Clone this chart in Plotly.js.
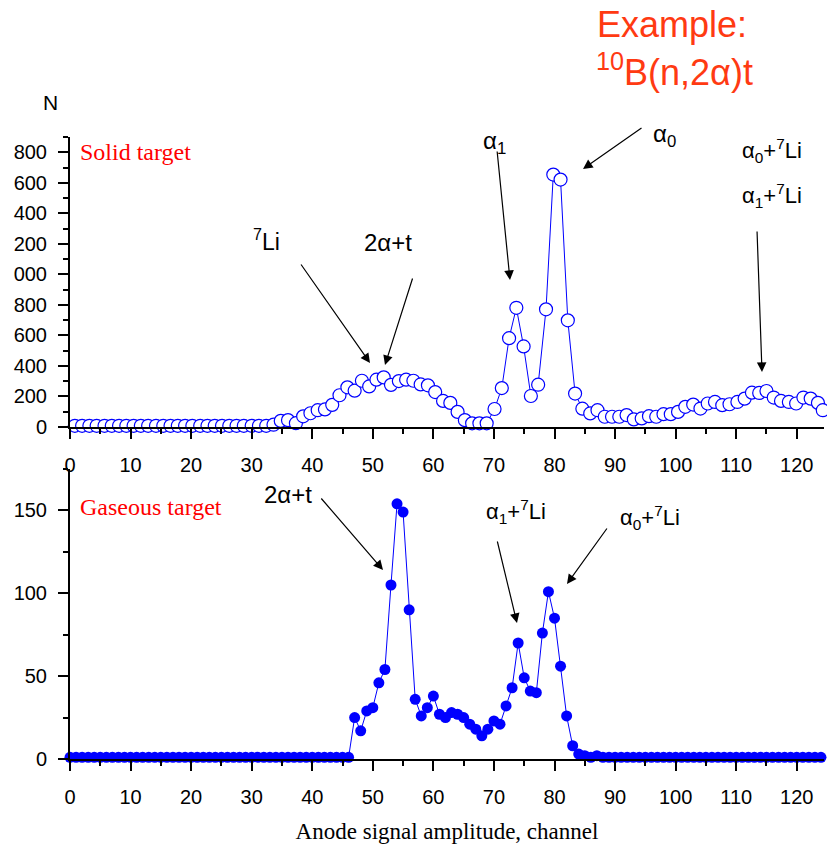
<!DOCTYPE html>
<html>
<head>
<meta charset="utf-8">
<script src="https://cdn.plot.ly/plotly-3.0.1.min.js"></script>
<style>
  html, body { margin: 0; padding: 0; background: #ffffff; }
  #chart { width: 827px; height: 847px; }
</style>
</head>
<body>
<div id="chart"></div>
<script>
// Solid target spectrum (open circles)
const solidChannel = [
  0.8, 2.0, 3.2, 4.4, 5.7, 6.9, 8.1, 9.3, 10.5, 11.7,
  12.9, 14.2, 15.4, 16.6, 17.8, 19.0, 20.2, 21.5, 22.7, 23.9,
  25.1, 26.3, 27.5, 28.7, 30.0, 31.2, 32.4, 33.6, 34.8, 36.0,
  37.3, 38.5, 39.7, 40.9, 42.1, 43.3, 44.5, 45.8, 47.0, 48.2,
  49.4, 50.6, 51.8, 53.0, 54.3, 55.5, 56.7, 57.9, 59.1, 60.3,
  61.6, 62.8, 64.0, 65.2, 66.4, 67.6, 68.8, 70.1, 71.3, 72.5,
  73.7, 74.9, 76.1, 77.3, 78.6, 79.8, 81.0, 82.2, 83.4, 84.6,
  85.9, 87.1, 88.3, 89.5, 90.7, 91.9, 93.1, 94.4, 95.6, 96.8,
  98.0, 99.2, 100.4, 101.6, 102.9, 104.1, 105.3, 106.5, 107.7, 108.9,
  110.2, 111.4, 112.6, 113.8, 115.0, 116.2, 117.4, 118.7, 119.9, 121.1,
  122.3, 123.5, 124.3
];
const solidCounts = [
  8, 8, 8, 8, 8, 8, 8, 8, 8, 8,
  8, 8, 8, 8, 8, 8, 8, 8, 8, 8,
  8, 8, 8, 8, 8, 8, 8, 15, 40, 45,
  25, 70, 90, 110, 115, 145, 208, 260, 238, 303,
  266, 310, 325, 276, 301, 310, 303, 279, 273, 229,
  171, 158, 99, 45, 24, 24, 24, 118, 255, 582,
  781, 528, 203, 277, 771, 1654, 1621, 699, 219, 120,
  89, 110, 67, 67, 67, 78, 50, 56, 71, 67,
  84, 84, 99, 132, 147, 121, 154, 164, 143, 149,
  164, 186, 225, 223, 236, 193, 171, 164, 154, 193,
  186, 158, 110
];

// Gaseous target spectrum (filled circles)
const gasChannel = [
  0, 1, 2, 3, 4, 5, 6, 7, 8, 9, 10, 11, 12, 13, 14, 15, 16, 17, 18, 19,
  20, 21, 22, 23, 24, 25, 26, 27, 28, 29, 30, 31, 32, 33, 34, 35, 36, 37, 38, 39,
  40, 41, 42, 43, 44, 45, 46, 47, 48, 49, 50, 51, 52, 53, 54, 55, 56, 57, 58, 59,
  60, 61, 62, 63, 64, 65, 66, 67, 68, 69, 70, 71, 72, 73, 74, 75, 76, 77, 78, 79,
  80, 81, 82, 83, 84, 85, 86, 87, 88, 89, 90, 91, 92, 93, 94, 95, 96, 97, 98, 99,
  100, 101, 102, 103, 104, 105, 106, 107, 108, 109, 110, 111, 112, 113, 114, 115, 116, 117, 118, 119,
  120, 121, 122, 123, 124
];
const gasCounts = [
  1, 1, 1, 1, 1, 1, 1, 1, 1, 1, 1, 1, 1, 1, 1, 1, 1, 1, 1, 1,
  1, 1, 1, 1, 1, 1, 1, 1, 1, 1, 1, 1, 1, 1, 1, 1, 1, 1, 1, 1,
  1, 1, 1, 1, 1, 1, 1, 25, 17, 29, 31, 46, 54, 105, 154, 149, 90, 36, 26, 31,
  38, 27, 25, 28, 27, 25, 21, 18, 14, 18, 23, 21, 32, 43, 70, 49, 41, 40, 76, 101,
  85, 56, 26, 8, 3, 2, 1, 2, 1, 1, 1, 1, 1, 1, 1, 1, 1, 1, 1, 1,
  1, 1, 1, 1, 1, 1, 1, 1, 1, 1, 1, 1, 1, 1, 1, 1, 1, 1, 1, 1,
  1, 1, 1, 1, 1
];

// Axis tick values and the labels printed beside them
const solidTickVals = [0, 200, 400, 600, 800, 1000, 1200, 1400, 1600, 1800];
const solidTickText = ["0", "200", "400", "600", "800", "000", "200", "400", "600", "800"];
const gasTickVals = [0, 50, 100, 150];

const W = 827, H = 847;
const SANS = "Liberation Sans, Arial, sans-serif";
const SERIF = "Liberation Serif, Times New Roman, serif";
const BLUE = "#0000ff";
const RED = "#ff0000";
const ORANGE = "#ff3a12";

// pixel position helpers for page-level labels
const px = x => x / W;
const py = y => 1 - y / H;

function label(text, x, y, size, color, family, xanchor) {
  return {
    xref: "paper", yref: "paper", x: px(x), y: py(y),
    text: text, showarrow: false,
    xanchor: xanchor || "center", yanchor: "middle",
    font: { family: family || SANS, size: size, color: color || "#000" }
  };
}

function arrow(tx, ty, hx, hy) {
  return {
    xref: "paper", yref: "paper", x: px(hx), y: py(hy),
    axref: "pixel", ayref: "pixel", ax: tx - hx, ay: ty - hy,
    text: "", showarrow: true,
    arrowhead: 2, arrowsize: 1.6, arrowwidth: 1.2, arrowcolor: "#000"
  };
}

const minorTicks = (dtick) => ({
  tickmode: "linear", tick0: 0, dtick: dtick,
  ticks: "outside", ticklen: 5, tickwidth: 2, tickcolor: "#000"
});

const axisCommon = {
  showgrid: false, zeroline: false,
  showline: true, linecolor: "#000", linewidth: 2,
  ticks: "outside", ticklen: 10, tickwidth: 2, tickcolor: "#000",
  tickfont: { family: SANS, size: 20, color: "#000" },
  mirror: false
};
const xAxisCommon = Object.assign({}, axisCommon, { ticklabelstandoff: 9 });
const yAxisCommon = Object.assign({}, axisCommon, { ticklabelstandoff: 7 });

const xdom = [70 / W, 824 / W];

const traces = [
  {
    x: solidChannel, y: solidCounts, xaxis: "x", yaxis: "y",
    type: "scatter", mode: "lines+markers", cliponaxis: false,
    line: { color: BLUE, width: 1 },
    marker: { symbol: "circle", size: 13, color: "#ffffff", line: { color: BLUE, width: 1.2 } },
    hoverinfo: "x+y"
  },
  {
    x: gasChannel, y: gasCounts, xaxis: "x2", yaxis: "y2",
    type: "scatter", mode: "lines+markers", cliponaxis: false,
    line: { color: BLUE, width: 1 },
    marker: { symbol: "circle", size: 11, color: BLUE, line: { width: 0 } },
    hoverinfo: "x+y"
  }
];

const layout = {
  width: W, height: H,
  margin: { l: 0, r: 0, t: 0, b: 0 },
  paper_bgcolor: "#ffffff", plot_bgcolor: "#ffffff",
  showlegend: false,
  xaxis: Object.assign({}, xAxisCommon, {
    domain: xdom, anchor: "y", range: [0, 124.5],
    tickmode: "linear", tick0: 0, dtick: 10,
    minor: minorTicks(5)
  }),
  yaxis: Object.assign({}, yAxisCommon, {
    domain: [py(427), py(137)], anchor: "x", range: [0, 1900],
    tickmode: "array", tickvals: solidTickVals, ticktext: solidTickText,
    minor: minorTicks(100)
  }),
  xaxis2: Object.assign({}, xAxisCommon, {
    domain: xdom, anchor: "y2", range: [0, 124.5],
    tickmode: "linear", tick0: 0, dtick: 10,
    minor: minorTicks(5),
    title: { text: "Anode signal amplitude, channel", font: { family: SERIF, size: 23, color: "#000" }, standoff: 16 }
  }),
  yaxis2: Object.assign({}, yAxisCommon, {
    domain: [py(759), py(469)], anchor: "x2", range: [0, 175],
    tickmode: "array", tickvals: gasTickVals,
    minor: minorTicks(25)
  }),
  annotations: [
    label("Example:", 672, 25, 36, ORANGE),
    label("<sup>10</sup>B(n,2\u03b1)t", 674, 70, 36, ORANGE),
    label("N", 50, 103, 21),
    label("Solid target", 78, 152, 24, RED, SERIF, "left"),
    label("<sup>7</sup>Li", 266, 240, 23),
    label("2\u03b1+t", 388, 243, 24),
    label("\u03b1<sub>1</sub>", 494, 143, 24),
    label("\u03b1<sub>0</sub>", 664, 135, 24),
    label("\u03b1<sub>0</sub>+<sup>7</sup>Li", 772, 150, 22),
    label("\u03b1<sub>1</sub>+<sup>7</sup>Li", 772, 195, 22),
    arrow(300, 263, 370, 363),
    arrow(413, 277, 385, 365),
    arrow(497, 150, 510, 280),
    arrow(643, 127, 583, 169),
    arrow(757, 230, 762, 372),

    label("Gaseous target", 78, 507, 24, RED, SERIF, "left"),
    label("2\u03b1+t", 288, 494, 24),
    label("\u03b1<sub>1</sub>+<sup>7</sup>Li", 516, 511, 22),
    label("\u03b1<sub>0</sub>+<sup>7</sup>Li", 650, 517, 22),
    arrow(320, 497, 383, 570),
    arrow(497, 540, 517, 623),
    arrow(608, 527, 567, 584)
  ]
};

Plotly.newPlot("chart", traces, layout, { displayModeBar: false, staticPlot: true });
</script>
</body>
</html>
